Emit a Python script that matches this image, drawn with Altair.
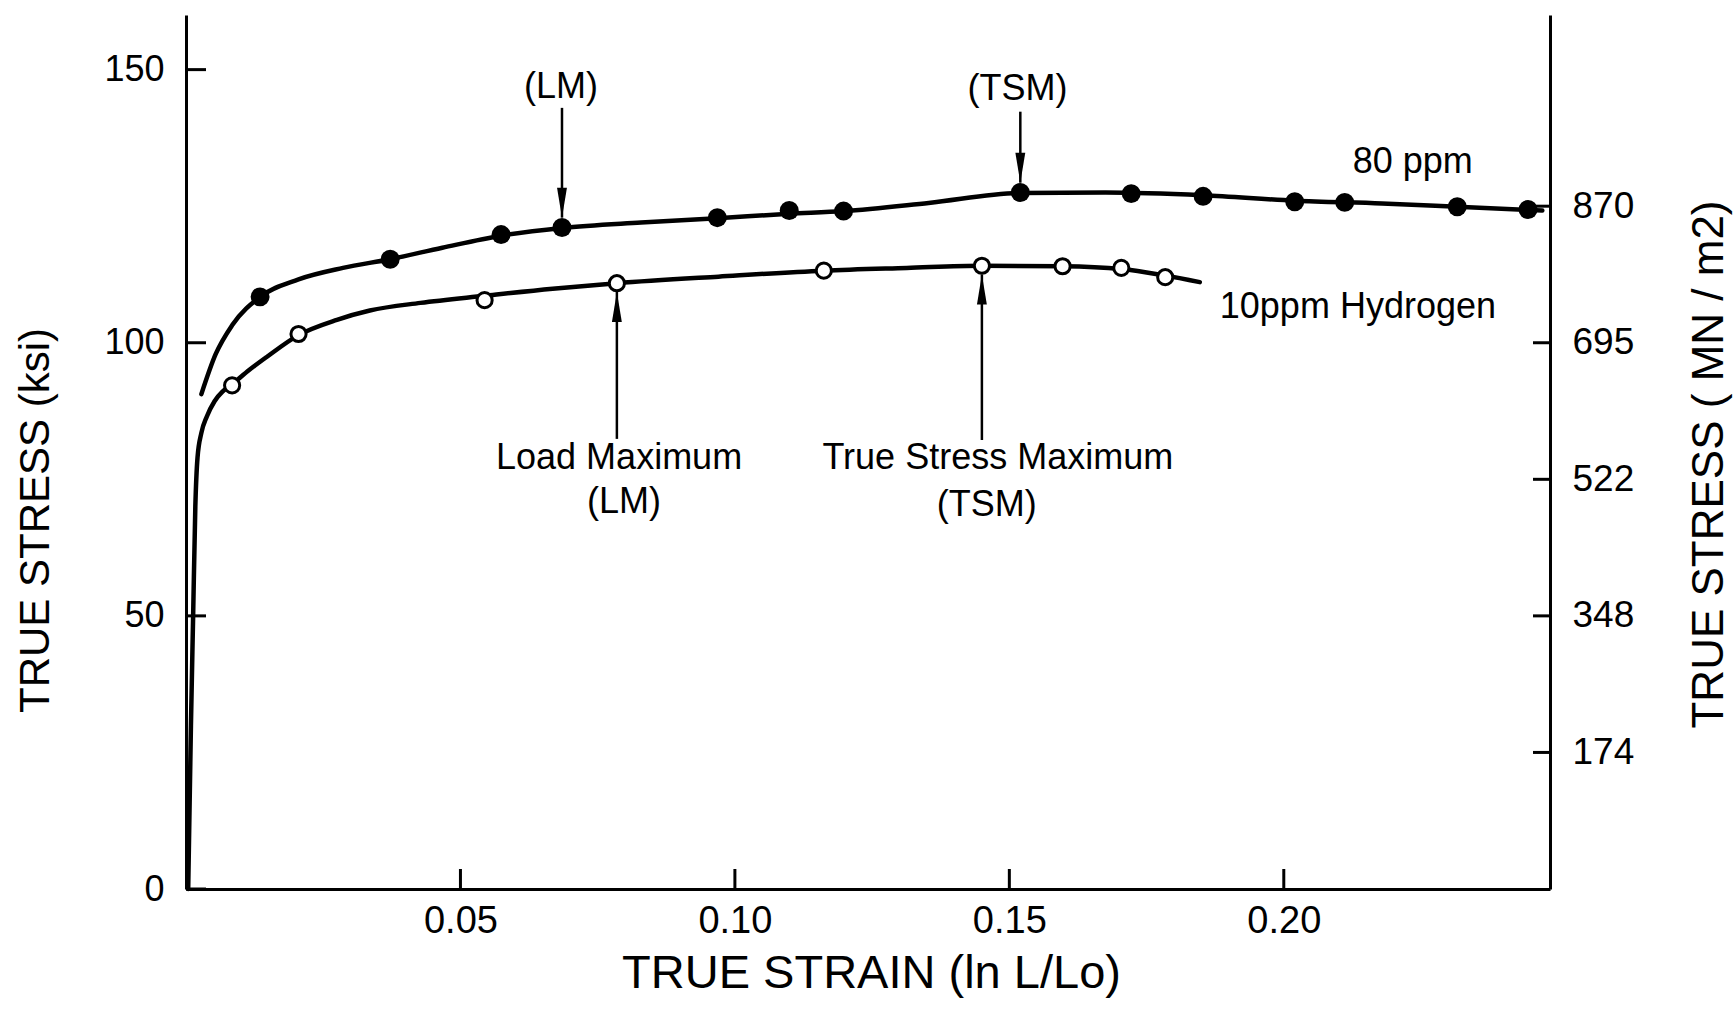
import altair as alt
import pandas as pd

# ---------------- data ----------------
# 80 ppm hydrogen: measured points (filled circles)
pts80_strain = [0.0135, 0.0372, 0.0574, 0.0685, 0.0968, 0.1099, 0.1198, 0.1520,
                0.1722, 0.1853, 0.2020, 0.2111, 0.2316, 0.2445]
pts80_stress = [108.4, 115.3, 119.8, 121.1, 122.9, 124.2, 124.1, 127.5,
                127.3, 126.8, 125.8, 125.7, 124.9, 124.4]

# 10 ppm hydrogen: measured points (open circles)
pts10_strain = [0.0084, 0.0205, 0.0544, 0.0785, 0.1162, 0.1450, 0.1597, 0.1704, 0.1784]
pts10_stress = [92.2, 101.6, 107.8, 110.9, 113.2, 114.1, 114.0, 113.7, 112.0]

# hand-drawn curves
curve80_strain = [0.0028, 0.0054, 0.0084, 0.0135, 0.0205, 0.0286, 0.0372, 0.0467,
                  0.0574, 0.0685, 0.0829, 0.0968, 0.1099, 0.1198, 0.1353, 0.1520,
                  0.1675, 0.1853, 0.2020, 0.2179, 0.2316, 0.2471]
curve80_stress = [90.6, 97.9, 103.2, 108.4, 111.6, 113.7, 115.3, 117.4,
                  119.6, 121.0, 122.0, 122.8, 123.6, 124.1, 125.6, 127.4,
                  127.5, 127.0, 126.0, 125.5, 124.9, 124.2]

curve10_strain = [0.0004, 0.0009, 0.0013, 0.0017, 0.0021, 0.0028, 0.0038, 0.0052,
                  0.0067, 0.0084, 0.0115, 0.0147, 0.0205, 0.0275, 0.0335, 0.0427,
                  0.0544, 0.0668, 0.0785, 0.0970, 0.1162, 0.1313, 0.1450, 0.1597,
                  0.1704, 0.1784, 0.1847]
curve10_stress = [0.0, 30.0, 50.0, 70.0, 79.0, 83.5, 86.5, 89.3,
                  91.1, 92.4, 95.0, 97.4, 101.4, 104.2, 105.9, 107.3,
                  108.6, 109.9, 110.9, 112.1, 113.2, 113.7, 114.1, 114.0,
                  113.5, 112.3, 111.1]

# axes
x_ticks = [0.05, 0.10, 0.15, 0.20]
left_ticks = [0, 50, 100, 150]
right_tick_ksi = [25, 50, 75, 100, 125]
right_tick_labels = ["174", "348", "522", "695", "870"]

# annotations (strain, ksi)
ann_text = ["(LM)", "(TSM)", "80 ppm", "10ppm Hydrogen", "Load Maximum", "(LM)",
            "True Stress Maximum", "(TSM)"]
ann_strain = [0.0683, 0.1515, 0.2235, 0.2135, 0.0789, 0.0798, 0.1479, 0.1459]
ann_stress = [146.9, 146.5, 133.0, 106.6, 78.9, 70.9, 78.9, 70.3]

# arrows: x, start, tip
arrow_strain = [0.0685, 0.1520, 0.0785, 0.1450]
arrow_from = [143.0, 142.3, 82.4, 82.2]
arrow_tip = [122.9, 129.3, 109.3, 112.5]
arrow_dir = ["down", "down", "up", "up"]

# ---------------- chart ----------------
FONT = "Liberation Sans"
W, H = 1364, 874
xs = alt.Scale(domain=[0, 0.2485], nice=False, zero=False)
ys = alt.Scale(domain=[0, 160], nice=False)

curves = pd.concat([
    pd.DataFrame({"strain": curve80_strain, "stress": curve80_stress, "series": "80 ppm"}),
    pd.DataFrame({"strain": curve10_strain, "stress": curve10_stress, "series": "10 ppm"}),
])
p80 = pd.DataFrame({"strain": pts80_strain, "stress": pts80_stress})
p10 = pd.DataFrame({"strain": pts10_strain, "stress": pts10_stress})
ann = pd.DataFrame({"label": ann_text, "strain": ann_strain, "stress": ann_stress})
arr = pd.DataFrame({"strain": arrow_strain, "y0": arrow_from, "y1": arrow_tip, "dir": arrow_dir})
xt = pd.DataFrame({"strain": x_ticks})
lt = pd.DataFrame({"ksi": left_ticks})
rt = pd.DataFrame({"ksi": right_tick_ksi})

label_expr = " : ".join(
    f"datum.value == {v} ? '{l}'" for v, l in zip(right_tick_ksi, right_tick_labels)
) + " : ''"

lines = alt.Chart(curves).mark_line(
    color="black", strokeWidth=4.5, interpolate="monotone", strokeCap="round"
).encode(
    x=alt.X("strain:Q", scale=xs, axis=None),
    y=alt.Y("stress:Q", scale=ys, axis=alt.Axis(
        values=left_ticks, ticks=False, grid=False,
        domainColor="black", domainWidth=3,
        labelFont=FONT, labelFontSize=36, labelColor="black", labelPadding=22,
        title="TRUE STRESS (ksi)", titleFont=FONT, titleFontSize=42,
        titleFontWeight="normal", titleColor="black", titleAngle=270,
        titleX=-151, titleY=505, titleBaseline="middle", titleAlign="center")),
    detail="series:N",
)

right_axis = alt.Chart(rt).mark_rule(color="black", strokeWidth=3).encode(
    y=alt.Y("ksi:Q", scale=ys, axis=alt.Axis(
        orient="right", values=right_tick_ksi, labelExpr=label_expr,
        ticks=False, grid=False, domainColor="black", domainWidth=3,
        labelFont=FONT, labelFontSize=37, labelColor="black", labelPadding=22,
        title="TRUE STRESS ( MN / m2)", titleFont=FONT, titleFontSize=44,
        titleFontWeight="normal", titleColor="black", titleAngle=270,
        titleX=159, titleY=449, titleBaseline="middle", titleAlign="center")),
    x=alt.value(W), x2=alt.value(W - 17),
)

left_tick_rules = alt.Chart(lt).mark_rule(color="black", strokeWidth=3).encode(
    y=alt.Y("ksi:Q", scale=ys, axis=None), x=alt.value(0), x2=alt.value(20))

x_tick_rules = alt.Chart(xt).mark_rule(color="black", strokeWidth=3).encode(
    x=alt.X("strain:Q", scale=xs, axis=alt.Axis(
        orient="bottom", values=x_ticks, format=".2f", ticks=False, grid=False,
        domainColor="black", domainWidth=3,
        labelFont=FONT, labelFontSize=38, labelColor="black", labelPadding=13,
        title="TRUE STRAIN (ln L/Lo)", titleFont=FONT, titleFontSize=47,
        titleFontWeight="normal", titleColor="black",
        titleX=685, titleY=84, titleBaseline="middle", titleAlign="center")),
    y=alt.value(H), y2=alt.value(H - 20))

pts_filled = alt.Chart(p80).mark_point(
    shape="circle", filled=True, color="black", size=360, opacity=1
).encode(x=alt.X("strain:Q", scale=xs, axis=None), y=alt.Y("stress:Q", scale=ys, axis=None))

pts_open = alt.Chart(p10).mark_point(
    shape="circle", filled=True, fill="white", stroke="black", strokeWidth=3,
    size=230, opacity=1
).encode(x=alt.X("strain:Q", scale=xs, axis=None), y=alt.Y("stress:Q", scale=ys, axis=None))

arrow_lines = alt.Chart(arr).mark_rule(color="black", strokeWidth=2.5).encode(
    x=alt.X("strain:Q", scale=xs, axis=None),
    y=alt.Y("y0:Q", scale=ys, axis=None), y2="y1:Q")

head_down = alt.Chart(arr).transform_filter(alt.datum.dir == "down").mark_point(
    shape="M0,0 L-0.33,-2 L0.33,-2 Z", filled=True, color="black", size=900, opacity=1
).encode(x=alt.X("strain:Q", scale=xs, axis=None), y=alt.Y("y1:Q", scale=ys, axis=None))

head_up = alt.Chart(arr).transform_filter(alt.datum.dir == "up").mark_point(
    shape="M0,0 L-0.33,2 L0.33,2 Z", filled=True, color="black", size=900, opacity=1
).encode(x=alt.X("strain:Q", scale=xs, axis=None), y=alt.Y("y1:Q", scale=ys, axis=None))

texts = alt.Chart(ann).mark_text(
    font=FONT, fontSize=36, color="black", align="center", baseline="middle"
).encode(
    x=alt.X("strain:Q", scale=xs, axis=None),
    y=alt.Y("stress:Q", scale=ys, axis=None),
    text="label:N",
)

chart = alt.layer(
    lines, right_axis, left_tick_rules, x_tick_rules, arrow_lines, head_down, head_up,
    pts_filled, pts_open, texts,
).resolve_scale(x="shared", y="shared").resolve_axis(
    x="independent", y="independent"
).properties(
    width=W, height=H,
    autosize=alt.AutoSizeParams(type="none"),
    padding={"left": 186, "top": 15, "right": 184, "bottom": 123},
    background="white",
).configure_view(stroke=None)

chart.save("out.html", embed_options={"renderer": "svg", "actions": False})
